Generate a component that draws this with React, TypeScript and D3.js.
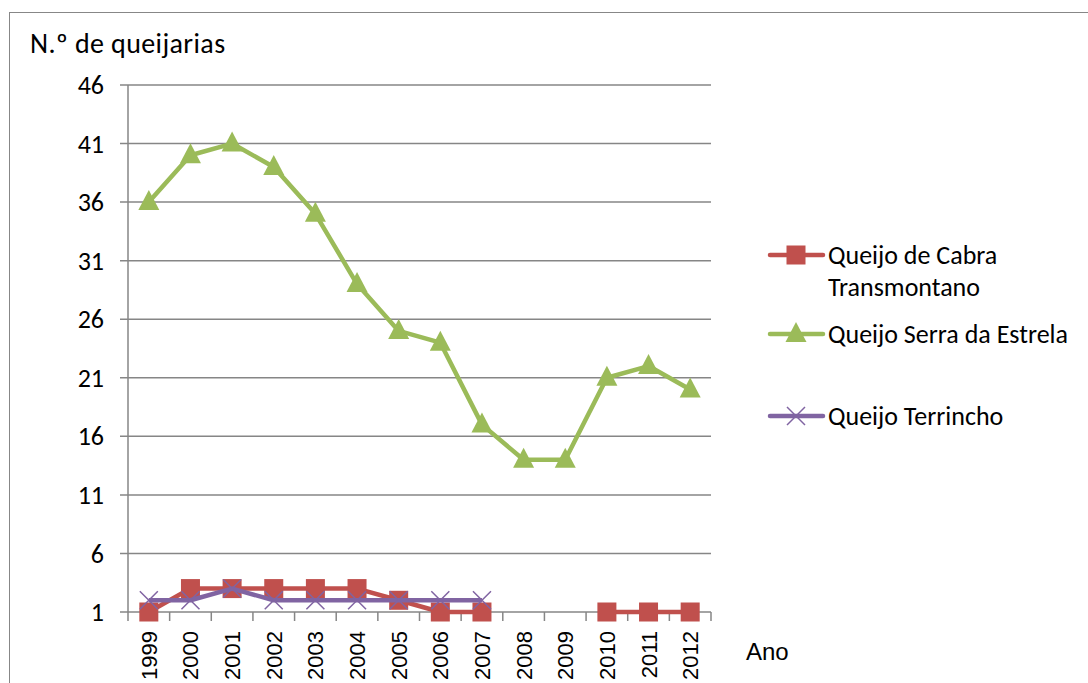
import React from "react";
import * as d3 from "d3";

const years = ["1999","2000","2001","2002","2003","2004","2005","2006","2007","2008","2009","2010","2011","2012"];
const cabra: (number | null)[] = [1,3,3,3,3,3,2,1,1,null,null,1,1,1];
const serra: (number | null)[] = [36,40,41,39,35,29,25,24,17,14,14,21,22,20];
const terrincho: (number | null)[] = [2,2,3,2,2,2,2,2,2,null,null,null,null,null];
const yTicks = [1,6,11,16,21,26,31,36,41,46];

const FONT = "Carlito, Calibri, 'Open Sans', 'Liberation Sans', sans-serif";
const SANS = "'Liberation Sans', Arial, sans-serif";

export default function App() {
  const x0 = 128, x1 = 711, yTop = 85, yBot = 612;
  const x = d3.scaleBand<string>().domain(years).range([x0, x1]);
  const cx = (i: number) => (x(years[i]) as number) + x.bandwidth() / 2;
  const y = d3.scaleLinear().domain([1, 46]).range([yBot, yTop]);
  const line = d3.line<number | null>()
    .defined(d => d !== null)
    .x((_, i) => cx(i))
    .y(d => y(d as number));

  const series = [
    { name: "cabra", data: cabra, color: "#C0504D", marker: "square" },
    { name: "serra", data: serra, color: "#9BBB59", marker: "triangle" },
    { name: "terrincho", data: terrincho, color: "#8064A2", marker: "x" },
  ];

  const marker = (kind: string, px: number, py: number, color: string, key: any) => {
    if (kind === "square") return <rect key={key} x={px - 9.5} y={py - 9.5} width={19} height={19} fill={color} />;
    if (kind === "triangle") return <path key={key} d={`M${px},${py - 12} L${px + 10.5},${py + 8} L${px - 10.5},${py + 8} Z`} fill={color} />;
    return <path key={key} d={`M${px - 9},${py - 9} L${px + 9},${py + 9} M${px + 9},${py - 9} L${px - 9},${py + 9}`} stroke={color} strokeWidth={1.5} fill="none" />;
  };

  const legend = [
    { lines: ["Queijo de Cabra", "Transmontano"], color: "#C0504D", marker: "square", y: 255 },
    { lines: ["Queijo Serra da Estrela"], color: "#9BBB59", marker: "triangle", y: 334 },
    { lines: ["Queijo Terrincho"], color: "#8064A2", marker: "x", y: 416 },
  ];

  return (
    <svg width={1088} height={683} style={{ position: "absolute", left: 0, top: 0, background: "#fff" }} fontFamily={FONT}>
      <rect x={9.5} y={12.5} width={1100} height={700} fill="#fff" stroke="#878787" strokeWidth={1} />
      {yTicks.map(t => (
        <g key={t}>
          <line x1={x0 - 8} x2={x1} y1={y(t)} y2={y(t)} stroke="#868686" strokeWidth={1.5} />
          <text x={104} y={y(t)} dy="0.35em" textAnchor="end" fontSize={26} fill="#000">{t}</text>
        </g>
      ))}
      <line x1={x0} x2={x0} y1={yTop} y2={yBot} stroke="#868686" strokeWidth={1.5} />
      {years.map((yr, i) => (
        <g key={yr}>
          <line x1={(x(yr) as number)} x2={(x(yr) as number)} y1={yBot} y2={yBot + 9} stroke="#868686" strokeWidth={1.5} />
          <text transform={`translate(${cx(i) + 8},${yBot + 19}) rotate(-90)`} textAnchor="end" fontSize={22} fontFamily={SANS} fill="#000">{yr}</text>
        </g>
      ))}
      <line x1={x1} x2={x1} y1={yBot} y2={yBot + 9} stroke="#868686" strokeWidth={1.5} />
      {series.map(s => (
        <g key={s.name}>
          <path d={line(s.data) || ""} fill="none" stroke={s.color} strokeWidth={4.5} strokeLinejoin="round" />
          {s.data.map((v, i) => v === null ? null : marker(s.marker, cx(i), y(v), s.color, i))}
        </g>
      ))}
      <text x={30} y={53} fontSize={28} letterSpacing={0.4} fill="#000">N.º de queijarias</text>
      <text x={746} y={660} fontSize={24} fontFamily={SANS} fill="#000">Ano</text>
      {legend.map((l, k) => (
        <g key={k}>
          <line x1={770} x2={823} y1={l.y} y2={l.y} stroke={l.color} strokeWidth={4.5} strokeLinecap="round" />
          {marker(l.marker, 796, l.y, l.color, "m")}
          {l.lines.map((t, j) => (
            <text key={j} x={828} y={l.y + j * 32} dy="0.35em" fontSize={26} fill="#000">{t}</text>
          ))}
        </g>
      ))}
    </svg>
  );
}
